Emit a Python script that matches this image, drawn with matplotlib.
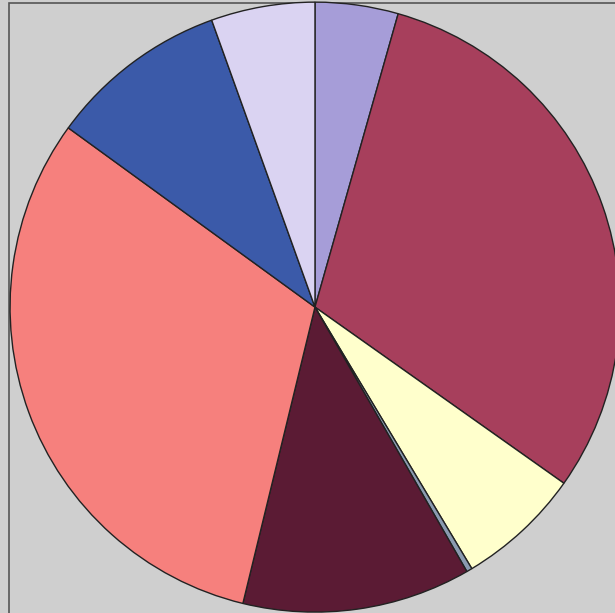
import matplotlib
matplotlib.use("Agg")
import matplotlib.pyplot as plt
from matplotlib.patches import Rectangle

categories = ["A", "B", "C", "D", "E", "F", "G", "H"]
values = [4.4, 30.4, 6.6, 0.3, 12.1, 31.2, 9.5, 5.5]
colors = ["#a69dd8", "#a73f5c", "#ffffcc", "#8a9ab0", "#5b1b34", "#f6807d", "#3b5aa9", "#dad3f2"]

fig = plt.figure(figsize=(6.15, 6.13), dpi=100, facecolor="#cfcfcf")
ax = fig.add_axes([0, 0, 1, 1])
ax.set_facecolor("#cfcfcf")
ax.pie(values, colors=colors, startangle=90, counterclock=False,
       wedgeprops=dict(edgecolor="#222222", linewidth=1.0))
ax.set_xlim(-1.033, 0.984)
ax.set_ylim(-1.003, 1.007)
ax.set_aspect("auto")
ax.axis("off")
fig.patches.append(Rectangle((9/615, -0.01), 1.1, 1 - 3/613 + 0.01, transform=fig.transFigure,
                             fill=False, edgecolor="#555555", linewidth=1.2, zorder=-1))
fig.savefig("out.png", dpi=100, facecolor=fig.get_facecolor())
